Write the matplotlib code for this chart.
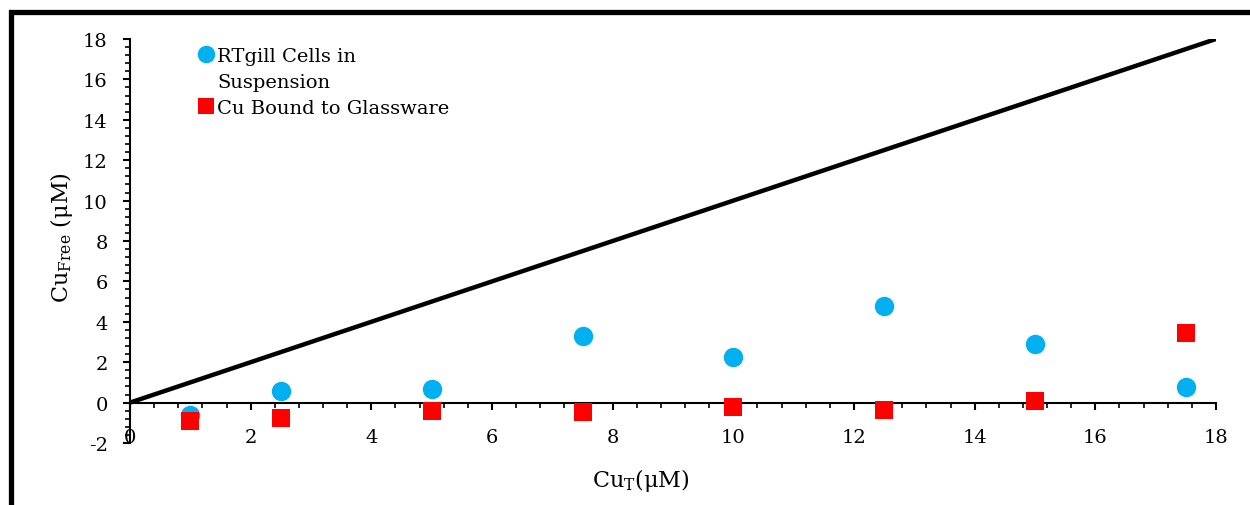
import numpy as np
import matplotlib.pyplot as plt
from matplotlib.patches import Rectangle
from matplotlib.lines import Line2D
from matplotlib.ticker import MultipleLocator

# data
cu_total = [1, 2.5, 5, 7.5, 10, 12.5, 15, 17.5]
cells_free = [-0.6, 0.58, 0.69, 3.31, 2.27, 4.8, 2.92, 0.78]
glass_free = [-0.89, -0.74, -0.42, -0.45, -0.2, -0.35, 0.06, 3.45]
line_x = [0, 18]
line_y = [0, 18]

plt.rcParams['font.family'] = ['DejaVu Serif']
plt.rcParams['mathtext.fontset'] = 'dejavuserif'
plt.rcParams['axes.unicode_minus'] = False

fig = plt.figure(figsize=(12.5, 5.06), dpi=100)
ax = fig.add_axes([130/1250, 1 - 444/506, 1086/1250, 404/506])

ax.plot(line_x, line_y, color='black', linewidth=3.2, solid_capstyle='butt', zorder=2)
cells, = ax.plot(cu_total, cells_free, 'o', color='#00B0F0', markersize=14,
                 markeredgewidth=0, zorder=3)
glass, = ax.plot(cu_total, glass_free, 's', color='#FF0000', markersize=13.5,
                 markeredgewidth=0, zorder=4)

ax.set_xlim(0, 18)
ax.set_ylim(-2, 18)
ax.xaxis.set_major_locator(MultipleLocator(2))
ax.xaxis.set_minor_locator(MultipleLocator(0.4))
ax.yaxis.set_major_locator(MultipleLocator(2))
ax.yaxis.set_minor_locator(MultipleLocator(0.4))

ax.spines['top'].set_visible(False)
ax.spines['right'].set_visible(False)
ax.spines['bottom'].set_position(('data', 0))
for s in ('left', 'bottom'):
    ax.spines[s].set_linewidth(1.5)

ax.tick_params(axis='both', which='major', direction='out', length=5, width=1.5,
               labelsize=14)
ax.tick_params(axis='both', which='minor', direction='out', length=3.5, width=1.2)
ax.tick_params(axis='x', which='major', pad=13)
ax.tick_params(axis='y', which='major', pad=11)

ax.set_xlabel(r'Cu$_\mathrm{T}$(μM)', fontsize=16)
ax.set_ylabel(r'Cu$_\mathrm{Free}$ (μM)', fontsize=16)
ax.xaxis.set_label_coords(0.4705, -0.057)
ax.yaxis.set_label_coords(-0.051, 0.51)

# legend: second line of the first label as its own blank row
blank = Line2D([], [], linestyle='none')
ax.legend([cells, blank, glass],
          ['RTgill Cells in', 'Suspension', 'Cu Bound to Glassware'],
          loc='upper left', bbox_to_anchor=(0.057, 1.0005), frameon=False,
          fontsize=14, markerscale=0.9, handlelength=0.6, handletextpad=0.3,
          labelspacing=0.43, borderaxespad=0)

fig.patches.append(Rectangle((10.5/1250, -0.2), 1.5, 1.2 - 13/506, transform=fig.transFigure,
                             fill=False, edgecolor='black', linewidth=3.8, figure=fig))

fig.savefig('out.png', dpi=100)
